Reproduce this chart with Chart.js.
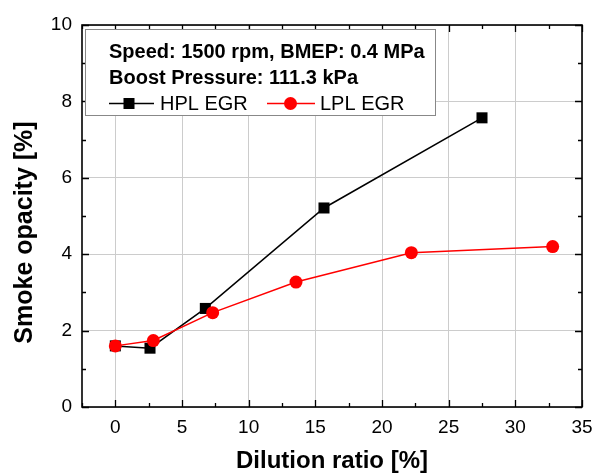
<!DOCTYPE html>
<html>
<head>
<meta charset="utf-8">
<script src="https://cdn.jsdelivr.net/npm/chart.js@4.4.0/dist/chart.umd.min.js"></script>
<style>
  html, body { margin: 0; padding: 0; background: #ffffff; }
  #wrap { width: 602px; height: 475px; }
</style>
</head>
<body>
<div id="wrap"><canvas id="c" width="602" height="475"></canvas></div>
<script>
// ---- data ----
const hplDilution = [0, 2.6, 6.75, 15.65, 27.5];
const hplOpacity  = [1.6, 1.54, 2.58, 5.21, 7.57];
const lplDilution = [0, 2.85, 7.3, 13.55, 22.2, 32.8];
const lplOpacity  = [1.6, 1.74, 2.47, 3.27, 4.04, 4.2];
const xTickValues = [0, 5, 10, 15, 20, 25, 30, 35];
const yTickValues = [0, 2, 4, 6, 8, 10];
const xMinorValues = [-2.5, 0, 2.5, 5, 7.5, 10, 12.5, 15, 17.5, 20, 22.5, 25, 27.5, 30, 32.5, 35];
const yMinorValues = [0, 1, 2, 3, 4, 5, 6, 7, 8, 9, 10];
const xTitle = 'Dilution ratio [%]';
const yTitle = 'Smoke opacity [%]';
const infoLines = ['Speed: 1500 rpm, BMEP: 0.4 MPa', 'Boost Pressure: 111.3 kPa'];
const seriesNames = ['HPL EGR', 'LPL EGR'];

const FONT = "'Liberation Sans', Arial, sans-serif";

const framePlugin = {
  id: 'frame',
  afterDatasetsDraw(chart) {
    const ctx = chart.ctx;
    const xs = chart.scales.x, ys = chart.scales.y;
    const a = chart.chartArea;
    ctx.save();
    ctx.strokeStyle = '#000';
    ctx.lineWidth = 1.3;
    // minor & major inner ticks
    xMinorValues.forEach(v => {
      const px = Math.round(xs.getPixelForValue(v)) + 0.5;
      const len = (v % 5 === 0) ? 7 : 4;
      ctx.beginPath();
      ctx.moveTo(px, a.bottom); ctx.lineTo(px, a.bottom - len);
      ctx.moveTo(px, a.top); ctx.lineTo(px, a.top + len);
      ctx.stroke();
    });
    yMinorValues.forEach(v => {
      const py = Math.round(ys.getPixelForValue(v)) + 0.5;
      const len = (v % 2 === 0) ? 7 : 4;
      ctx.beginPath();
      ctx.moveTo(a.left, py); ctx.lineTo(a.left + len, py);
      ctx.moveTo(a.right, py); ctx.lineTo(a.right - len, py);
      ctx.stroke();
    });
    ctx.lineWidth = 1.6;
    ctx.strokeRect(a.left, a.top, a.right - a.left, a.bottom - a.top);

    // y-axis title
    ctx.save();
    ctx.translate(32, 232.5);
    ctx.rotate(-Math.PI / 2);
    ctx.fillStyle = '#000';
    ctx.font = 'bold 25px ' + FONT;
    ctx.textAlign = 'center';
    ctx.textBaseline = 'alphabetic';
    ctx.fillText(yTitle, 0, 0);
    ctx.restore();

    // info / legend box
    const bx = 85.5, by = 29.5, bw = 350, bh = 86;
    ctx.fillStyle = '#fff';
    ctx.fillRect(bx, by, bw, bh);
    ctx.strokeStyle = '#888';
    ctx.lineWidth = 1;
    ctx.strokeRect(bx, by, bw, bh);

    ctx.fillStyle = '#000';
    ctx.textBaseline = 'middle';
    ctx.textAlign = 'left';
    ctx.font = 'bold 20px ' + FONT;
    ctx.fillText(infoLines[0], 109, 52);
    ctx.fillText(infoLines[1], 109, 78.5);

    const ly = 103.5;
    // HPL entry
    ctx.strokeStyle = '#000';
    ctx.lineWidth = 1.5;
    ctx.beginPath(); ctx.moveTo(109, ly); ctx.lineTo(154, ly); ctx.stroke();
    ctx.fillStyle = '#000';
    ctx.fillRect(129 - 5.5, ly - 5.5, 11, 11);
    ctx.font = '20px ' + FONT;
    ctx.fillText(seriesNames[0], 160, ly + 1);
    // LPL entry
    ctx.strokeStyle = '#ff0000';
    ctx.beginPath(); ctx.moveTo(267, ly); ctx.lineTo(315, ly); ctx.stroke();
    ctx.fillStyle = '#ff0000';
    ctx.beginPath(); ctx.arc(290.5, ly, 6.5, 0, Math.PI * 2); ctx.fill();
    ctx.fillStyle = '#000';
    ctx.fillText(seriesNames[1], 320, ly + 1);
    ctx.restore();
  }
};

new Chart(document.getElementById('c'), {
  type: 'scatter',
  data: {
    datasets: [
      {
        label: seriesNames[1],
        data: lplDilution.map((x, i) => ({ x, y: lplOpacity[i] })),
        showLine: true,
        borderColor: '#ff0000',
        backgroundColor: '#ff0000',
        borderWidth: 1.5,
        pointStyle: 'circle',
        pointRadius: 6.5,
        pointBorderWidth: 0,
        order: 1
      },
      {
        label: seriesNames[0],
        data: hplDilution.map((x, i) => ({ x, y: hplOpacity[i] })),
        showLine: true,
        borderColor: '#000000',
        backgroundColor: '#000000',
        borderWidth: 1.5,
        pointStyle: 'rect',
        pointRadius: 7.8,
        pointBorderWidth: 0,
        order: 2
      }
    ]
  },
  options: {
    responsive: false,
    animation: false,
    devicePixelRatio: 1,
    layout: { padding: { left: 0, right: 20, top: 25, bottom: 0 } },
    plugins: { legend: { display: false }, tooltip: { enabled: false } },
    scales: {
      x: {
        type: 'linear',
        min: -2.5, max: 35,
        afterBuildTicks: s => { s.ticks = xTickValues.map(v => ({ value: v })); },
        afterFit: s => { s.height = 68; },
        ticks: { font: { family: FONT, size: 19 }, color: '#000', padding: 9, maxRotation: 0, autoSkip: false },
        grid: { color: '#cccccc', lineWidth: 1, drawTicks: false },
        border: { display: false },
        title: { display: true, text: xTitle, font: { family: FONT, size: 24, weight: 'bold', lineHeight: 1.1 }, color: '#000', padding: { top: 0, bottom: 0 } }
      },
      y: {
        type: 'linear',
        min: 0, max: 10,
        afterBuildTicks: s => { s.ticks = yTickValues.map(v => ({ value: v })); },
        afterFit: s => { s.width = 82; },
        ticks: { font: { family: FONT, size: 19 }, color: '#000', padding: 10, autoSkip: false },
        grid: { color: '#cccccc', lineWidth: 1, drawTicks: false },
        border: { display: false },
        title: { display: false }
      }
    }
  },
  plugins: [framePlugin]
});
</script>
</body>
</html>
